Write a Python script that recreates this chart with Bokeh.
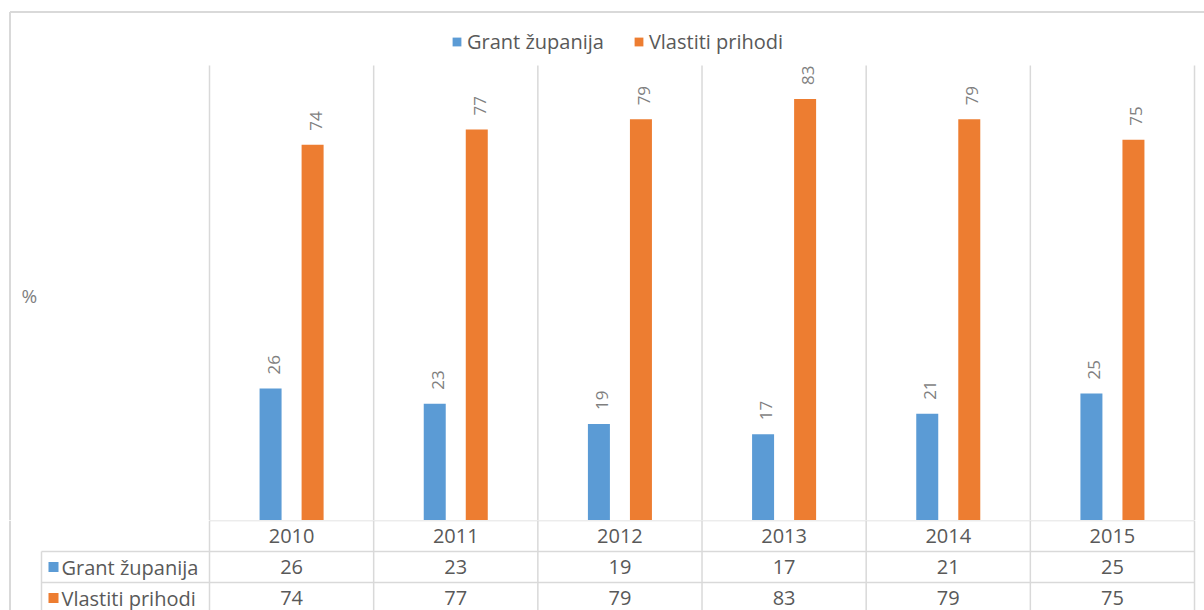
import numpy as np
from bokeh.plotting import figure
from bokeh.layouts import column
from bokeh.models import Range1d, Legend, LegendItem, Label, ColumnDataSource
from bokeh.core.properties import value
from bokeh.embed import file_html
from bokeh.resources import INLINE

# ---- data ----
years = ["2010", "2011", "2012", "2013", "2014", "2015"]
grant = [26, 23, 19, 17, 21, 25]
vlastiti = [74, 77, 79, 83, 79, 75]
series_names = ["Grant županija", "Vlastiti prihodi"]
colors = ["#5B9BD5", "#ED7D31"]
unit_label = "%"

# ---- layout constants ----
W = 1204
H_TOP = 520
H_TAB = 90
CAT_PX = 164.17          # pixels per category
LEFT_PX = 209            # left edge of plot area
PX_PER_VAL = 457 / 90.0  # pixels per percent
Y_MAX = 89.6
ROW_PX = 31
TABLE_LEFT_PX = 41

FONT = "Open Sans"
GRID = "#D9D9D9"
TXT = "#595959"
LBL = "#7F7F7F"

n = len(years)
xs = -0.5 - LEFT_PX / CAT_PX
xe = xs + W / CAT_PX
x_range = Range1d(xs, xe)
idx = np.arange(n)
bounds = np.arange(n + 1) - 0.5

def px_to_x(px):
    return xs + px / CAT_PX

# ---- top figure: bars ----
p1 = figure(width=W, height=H_TOP, x_range=x_range,
            y_range=Range1d(0, H_TOP / PX_PER_VAL),
            x_axis_type=None, y_axis_type=None,
            output_backend="svg", toolbar_location=None, min_border=0)
p1.outline_line_color = None
p1.grid.visible = False
p1.background_fill_color = "white"
p1.border_fill_color = "white"

# border (left and top)
top_y = (H_TOP - 11.5) / PX_PER_VAL
p1.segment(x0=[px_to_x(9.5)], y0=[0], x1=[px_to_x(9.5)], y1=[top_y], line_color=GRID, line_width=2)
p1.segment(x0=[px_to_x(9.5)], y0=[top_y], x1=[xe + 1], y1=[top_y], line_color=GRID, line_width=2)

# vertical category gridlines
p1.segment(x0=bounds, y0=[0] * (n + 1), x1=bounds, y1=[Y_MAX] * (n + 1), line_color=GRID, line_width=1.5)

off = 0.128
bw = 0.134
src_g = ColumnDataSource(dict(x=idx - off, top=grant, lab=[str(v) for v in grant]))
src_v = ColumnDataSource(dict(x=idx + off, top=vlastiti, lab=[str(v) for v in vlastiti]))
r1 = p1.vbar(x="x", top="top", width=bw, bottom=0, source=src_g, fill_color=colors[0], line_color=None)
r2 = p1.vbar(x="x", top="top", width=bw, bottom=0, source=src_v, fill_color=colors[1], line_color=None)

for src in (src_g, src_v):
    p1.text(x="x", y="top", text="lab", source=src, angle=np.pi / 2,
            text_align="left", text_baseline="middle", x_offset=3, y_offset=-14,
            text_font=value(FONT), text_font_size="17px", text_color=LBL)

legend = Legend(items=[LegendItem(label=series_names[0], renderers=[r1]),
                       LegendItem(label=series_names[1], renderers=[r2])],
                orientation="horizontal", location=(451, H_TOP - 43 - 12),
                border_line_color=None, background_fill_alpha=0,
                label_text_font=FONT, label_text_font_size="20px", label_text_color=TXT,
                glyph_width=11, glyph_height=11, label_standoff=5, spacing=29,
                padding=0, margin=0, label_height=24)
p1.add_layout(legend)

p1.add_layout(Label(x=21, y=H_TOP - 295, x_units="screen", y_units="screen", text=unit_label,
                    text_font=FONT, text_font_size="19px", text_color=LBL, text_baseline="middle"))

# ---- bottom figure: data table ----
rows_total = H_TAB / ROW_PX
p2 = figure(width=W, height=H_TAB, x_range=x_range, y_range=Range1d(rows_total, 0),
            x_axis_type=None, y_axis_type=None,
            output_backend="svg", toolbar_location=None, min_border=0)
p2.outline_line_color = None
p2.grid.visible = False

# left border continues
p2.segment(x0=[px_to_x(9.5)], y0=[0], x1=[px_to_x(9.5)], y1=[rows_total], line_color=GRID, line_width=2)
# horizontal lines
tl = px_to_x(TABLE_LEFT_PX)
p2.segment(x0=[bounds[0], tl, tl], y0=[0, 1, 2], x1=[bounds[-1]] * 3, y1=[0, 1, 2], line_color=GRID, line_width=1.5)
# vertical lines
p2.segment(x0=bounds, y0=[0] * (n + 1), x1=bounds, y1=[rows_total] * (n + 1), line_color=GRID, line_width=1.5)
p2.segment(x0=[tl], y0=[1], x1=[tl], y1=[rows_total], line_color=GRID, line_width=1.5)

p2.text(x=idx, y=[0.5] * n, text=years, text_align="center", text_baseline="middle",
        text_font=value(FONT), text_font_size="20px", text_color=TXT)
p2.text(x=idx, y=[1.5] * n, text=[str(v) for v in grant], text_align="center", text_baseline="middle",
        text_font=value(FONT), text_font_size="20px", text_color=TXT)
p2.text(x=idx, y=[2.5] * n, text=[str(v) for v in vlastiti], text_align="center", text_baseline="middle",
        text_font=value(FONT), text_font_size="20px", text_color=TXT)

# row headers
p2.rect(x=[px_to_x(53)] * 2, y=[1.5, 2.5], width=10, height=10, width_units="screen", height_units="screen",
        fill_color=colors, line_color=None)
p2.text(x=[px_to_x(61)] * 2, y=[1.5, 2.5], text=series_names, text_align="left", text_baseline="middle",
        text_font=value(FONT), text_font_size="20px", text_color=TXT)

layout = column(p1, p2, spacing=0)
open("out.html", "w").write(file_html(layout, INLINE))
